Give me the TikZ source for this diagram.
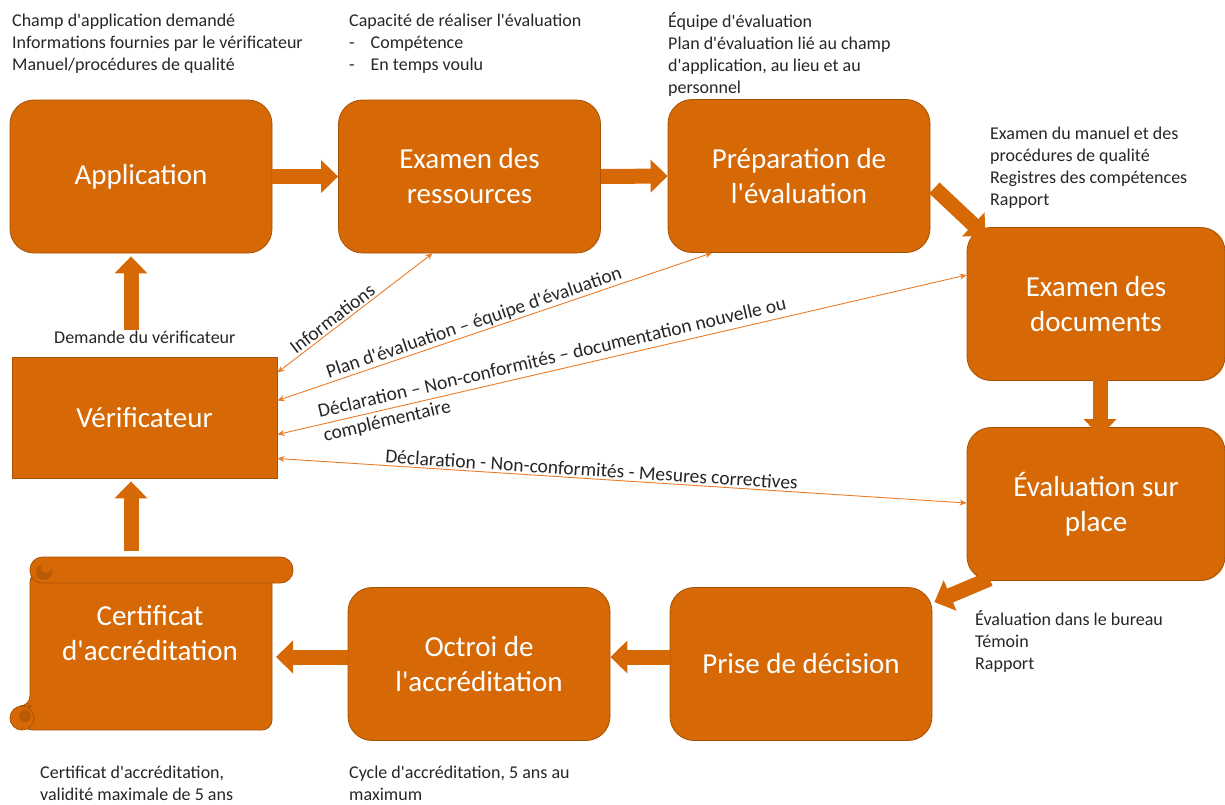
\documentclass[tikz,border=0pt]{standalone}
\usepackage{fontspec}
\setmainfont{Carlito}[Ligatures=TeXOff]
\usetikzlibrary{arrows.meta,calc}
\definecolor{boxorange}{HTML}{D66905}
\definecolor{boxedge}{HTML}{A65207}
\definecolor{curlorange}{HTML}{B85A06}
\definecolor{linkorange}{HTML}{EC7B26}
\definecolor{notegray}{HTML}{262626}
\tikzset{
  stepbox/.style={fill=boxorange, draw=boxedge, line width=0.8pt, rounded corners=24pt,
    text=white, font=\fontsize{29}{35}\selectfont, align=center,
    minimum width=262pt, minimum height=153pt, inner sep=0pt},
  plainbox/.style={stepbox, rounded corners=0pt},
  blockarrow/.style={draw=boxorange, line width=15pt,
    -{Triangle[length=17pt,width=32pt]}},
  link/.style={draw=linkorange, line width=0.9pt,
    {Stealth[length=7pt,width=6pt]}-{Stealth[length=7pt,width=6pt]}},
  note/.style={text=notegray, font=\fontsize{18}{22}\selectfont, align=left,
    anchor=north west, inner sep=0pt},
  linklabel/.style={text=notegray, font=\fontsize{19.5}{24}\selectfont, sloped, inner sep=2pt},
}
\begin{document}
\begin{tikzpicture}[x=1pt,y=-1pt]
\useasboundingbox (0,0) rectangle (1225,804);

% process steps
\node[stepbox] (app)   at (141,176.5) {Application};
\node[stepbox] (res)   at (469.5,176.5) {Examen des\\ressources};
\node[stepbox] (prep)  at (799,176) {Préparation de\\l'évaluation};
\node[stepbox, minimum width=258pt] (docs)  at (1096,304) {Examen des\\documents};
\node[stepbox, minimum width=258pt] (eval)  at (1096,504) {Évaluation sur\\place};
\node[stepbox] (prise) at (801,664) {Prise de décision};
\node[stepbox] (octroi) at (479,664) {Octroi de\\l'accréditation};
\node[plainbox, minimum width=265pt, minimum height=121pt] (ver) at (144.5,417.5) {Vérificateur};

% certificate drawn as a scroll
\fill[boxorange, draw=boxedge, line width=0.8pt, rounded corners=10pt]
  (30,572) -- (272,572) -- (272,730) -- (22,730) -- (22,706) -- (30,706) -- cycle;
\fill[boxorange, draw=boxedge, line width=0.8pt] (22,718) circle (12);
\fill[curlorange] (25,716) circle (6);
\fill[boxorange, draw=boxedge, line width=0.8pt, rounded corners=12.5pt]
  (30,557) rectangle (293,583);
\fill[curlorange] (44,572) circle (8);
\fill[boxorange] (46,568) circle (5);
\node[text=white, font=\fontsize{29}{35}\selectfont, align=center, inner sep=0pt]
  (cert) at (150,633) {Certificat\\d'accréditation};

% main flow
\draw[blockarrow] (app.east) -- (res.west);
\draw[blockarrow] (res.east) -- (prep.west);
\draw[blockarrow] ($(prep.east)+(4,12)$) -- ($(docs.north west)+(19,9)$);
\draw[blockarrow] ($(docs.south)+(4,-10)$) -- ($(eval.north)+(4,9)$);
\draw[blockarrow] ($(eval.south west)+(23,-2)$) -- ($(prise.north east)+(2,15)$);
\draw[blockarrow] ($(prise.west)+(0,-7)$) -- ($(octroi.east)+(0,-7)$);
\draw[blockarrow] ($(octroi.west)+(0,-7)$) -- (276,657);
\draw[blockarrow] (131,551) -- ($(ver.south)+(-13.5,3)$);
\draw[blockarrow] ($(ver.north)+(-13.5,-27)$) -- ($(app.south)+(-10,3)$);

% exchanges with the verifier
\draw[link] ([yshift=45pt]ver.east) -- node[linklabel, above, pos=0.39] {Informations}
  ([xshift=-37pt]res.south);
\draw[link] ([yshift=17pt]ver.east) -- node[linklabel, above, pos=0.46, inner sep=1pt]
  {Plan d'évaluation – équipe d'évaluation} ([xshift=-87pt]prep.south);
\draw[link] ([yshift=-17pt]ver.east) -- node[linklabel, anchor=west, pos=0.06, align=left]
  {Déclaration – Non-conformités – documentation nouvelle ou\\complémentaire}
  ([yshift=29pt]docs.west);
\draw[link] ([yshift=-41pt]ver.east) -- node[linklabel, above, pos=0.455]
  {Déclaration - Non-conformités - Mesures correctives} ([yshift=1pt]eval.west);

% notes
\node[note] (n1) at (12,14) {Champ d'application demandé\\Informations fournies par le vérificateur\\Manuel/procédures de qualité};
\node[note] (n2) at (349,14) {Capacité de réaliser l'évaluation\\-\hspace{16pt}Compétence\\-\hspace{16pt}En temps voulu};
\node[note] (n3) at (668,12) {Équipe d'évaluation\\Plan d'évaluation lié au champ\\d'application, au lieu et au\\personnel};
\node[note] (n4) at (990,127) {Examen du manuel et des\\procédures de qualité\\Registres des compétences\\Rapport};
\node[note] (n5) at (54,331) {Demande du vérificateur};
\node[note] (n6) at (975,610) {Évaluation dans le bureau\\Témoin\\Rapport};
\node[note] (n7) at (40,766) {Certificat d'accréditation,\\validité maximale de 5 ans};
\node[note] (n8) at (349,766) {Cycle d'accréditation, 5 ans au\\maximum};
\end{tikzpicture}
\end{document}
